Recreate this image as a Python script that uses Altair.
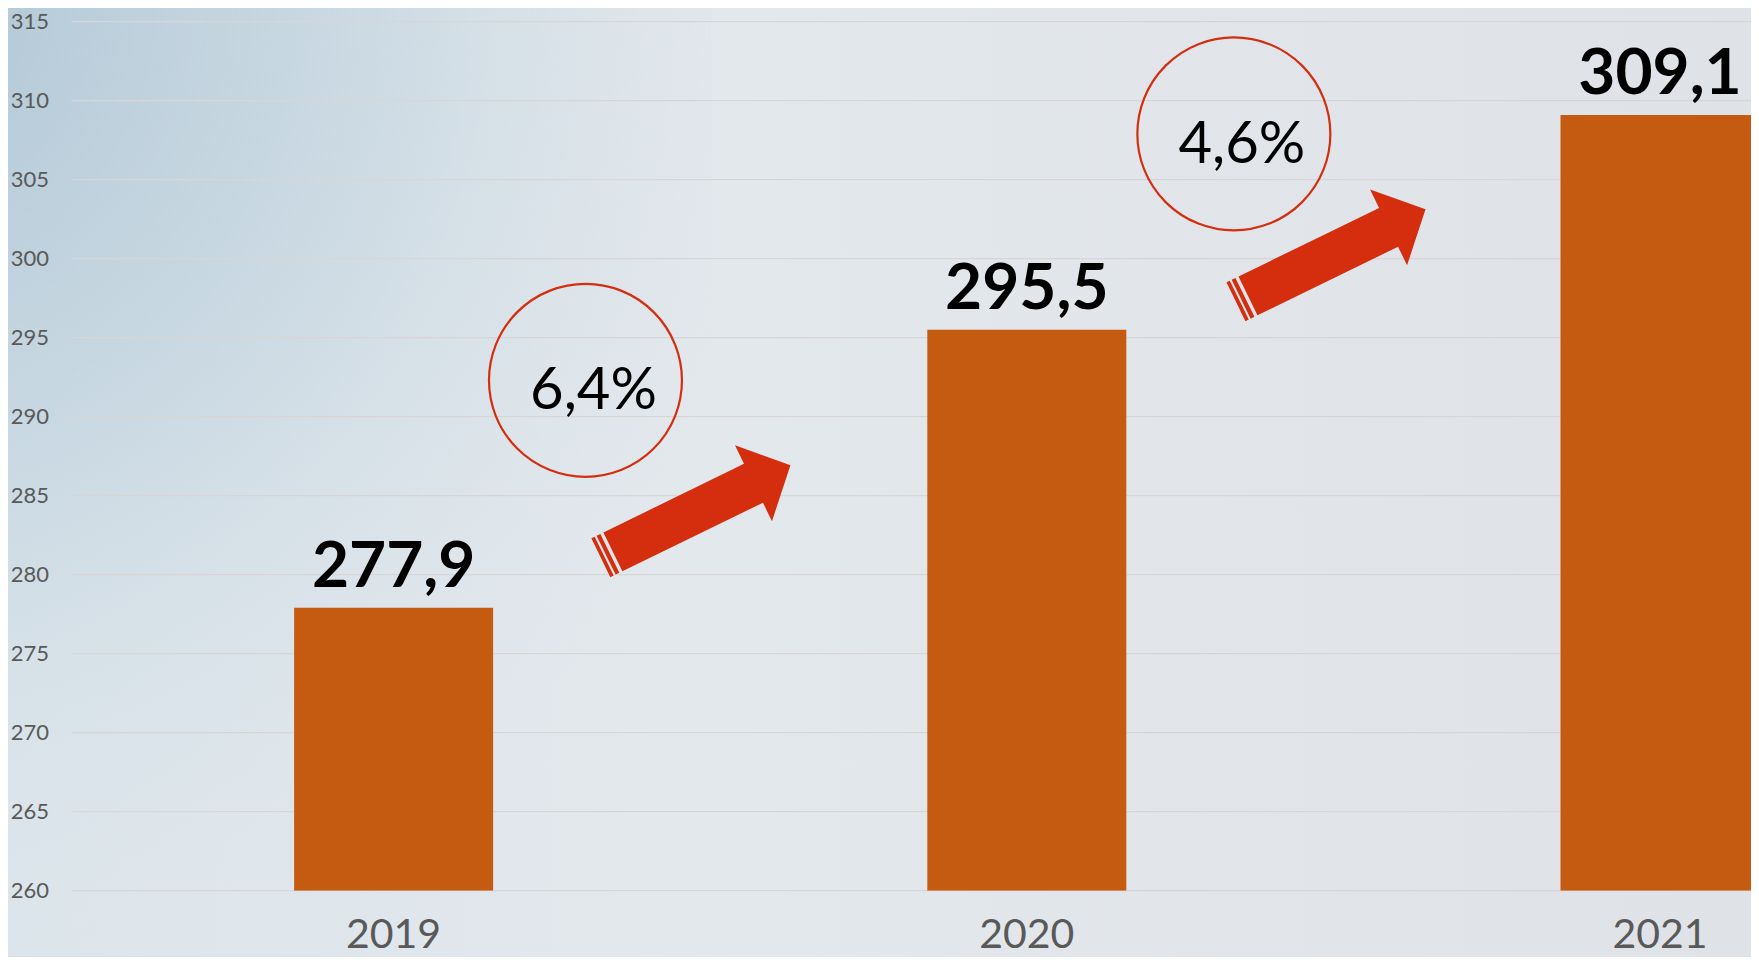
import altair as alt
import pandas as pd

# ---- data -------------------------------------------------------------
years = [2019, 2020, 2021]
year_labels = ["2019", "2020", "2021"]
values = [277.9, 295.5, 309.1]
value_labels = ["277,9", "295,5", "309,1"]
y_ticks = [260, 265, 270, 275, 280, 285, 290, 295, 300, 305, 310, 315]

growth_labels = ["6,4%", "4,6%"]
# annotation anchors, in data units (year, value)
growth_x = [2019.303, 2020.327]
growth_y = [292.3, 307.9]
arrow_x = [2019.477, 2020.48]
arrow_y = [284.0, 300.2]

# ---- styling ----------------------------------------------------------
W, H = 1679, 869
X_DOMAIN = [2018.5, 2021.1358]
Y_DOMAIN = [260, 315]
ORANGE = "#c55a11"
RED = "#d42e0e"
GREY = "#595959"
FONT = "Lato"

# arrow pointing right, drawn in the [-1, 1] symbol box, with two tail stripes
ARROW = (
    "M -0.873 -0.205 L 0.61 -0.205 L 0.61 -0.4 L 1 0 L 0.61 0.4 L 0.61 0.205 "
    "L -0.873 0.205 Z "
    "M -0.945 -0.205 L -0.905 -0.205 L -0.905 0.205 L -0.945 0.205 Z "
    "M -1 -0.205 L -0.965 -0.205 L -0.965 0.205 L -1 0.205 Z"
)

bars_df = pd.DataFrame({"year": years, "value": values, "label": value_labels,
                        "ylab": year_labels})
ticks_df = pd.DataFrame({"tick": y_ticks})
growth_df = pd.DataFrame({"gx": growth_x, "gy": growth_y, "label": growth_labels})
arrow_df = pd.DataFrame({"ax": arrow_x, "ay": arrow_y})
one = pd.DataFrame({"k": [0]})

xs = alt.Scale(domain=X_DOMAIN, nice=False, zero=False)
ys = alt.Scale(domain=Y_DOMAIN, nice=False, zero=False)

base_bg = alt.Chart(one).mark_rect(
    color=alt.LinearGradient(
        gradient="linear",
        stops=[
            alt.GradientStop(offset=0, color="#dce5eb"),
            alt.GradientStop(offset=0.4, color="#e3e8ec"),
            alt.GradientStop(offset=0.75, color="#e1e5ea"),
            alt.GradientStop(offset=1, color="#dfe2e7"),
        ],
        x1=0, y1=0, x2=1, y2=0,
    )
).encode(x=alt.value(-64), x2=alt.value(W), y=alt.value(-14), y2=alt.value(H + 66))

glow_bg = alt.Chart(one).mark_rect(
    color=alt.RadialGradient(
        gradient="radial",
        stops=[
            alt.GradientStop(offset=0, color="rgba(174,197,212,1)"),
            alt.GradientStop(offset=0.5, color="rgba(196,213,224,0.75)"),
            alt.GradientStop(offset=1, color="rgba(220,229,235,0)"),
        ],
        x1=0, y1=0, r1=0, x2=0, y2=0, r2=1,
    )
).encode(x=alt.value(-64), x2=alt.value(640), y=alt.value(-14), y2=alt.value(H + 66))

grid = alt.Chart(ticks_df).mark_rule(color="#d8d5d6", strokeWidth=1.3).encode(
    y=alt.Y("tick:Q", scale=ys, axis=None)
)

y_labels = alt.Chart(ticks_df).mark_text(
    font=FONT, fontSize=22, color=GREY, align="right", baseline="middle"
).encode(
    x=alt.value(-23),
    y=alt.Y("tick:Q", axis=None),
    text=alt.Text("tick:Q", format="d"),
)

bars = alt.Chart(bars_df).mark_bar(size=199, color=ORANGE, clip=True).encode(
    x=alt.X("year:Q", scale=xs, axis=None),
    y=alt.Y("value:Q", axis=None),
    y2=alt.datum(260),
)

x_labels = alt.Chart(bars_df).mark_text(
    font=FONT, fontSize=41, color=GREY, align="center", baseline="alphabetic"
).encode(
    x=alt.X("year:Q", axis=None),
    y=alt.value(H + 57),
    text="ylab:N",
)

bar_text = alt.Chart(bars_df).mark_text(
    font=FONT, fontWeight="bold", fontSize=64, baseline="alphabetic",
    align="center", dy=-21, color="#000000",
).encode(
    x=alt.X("year:Q", axis=None),
    y=alt.Y("value:Q", axis=None),
    text="label:N",
)

circles = alt.Chart(growth_df).mark_point(
    shape="circle", size=37249, filled=False, color=RED, strokeWidth=2.2, opacity=1
).encode(x=alt.X("gx:Q", axis=None), y=alt.Y("gy:Q", axis=None))

growth_text = alt.Chart(growth_df).mark_text(
    font=FONT, fontSize=58, baseline="alphabetic", align="center",
    dx=8, dy=29, color="#000000",
).encode(x=alt.X("gx:Q", axis=None), y=alt.Y("gy:Q", axis=None), text="label:N")

arrows = alt.Chart(arrow_df).mark_point(
    shape=ARROW, size=44500, filled=True, color=RED, opacity=1,
    strokeWidth=0, angle=334,
).encode(x=alt.X("ax:Q", axis=None), y=alt.Y("ay:Q", axis=None))

chart = alt.layer(
    base_bg, glow_bg, grid, y_labels, bars, x_labels, bar_text,
    circles, growth_text, arrows,
).resolve_scale(x="shared", y="shared").properties(
    width=W,
    height=H,
    padding={"left": 64, "top": 13.7, "right": 0, "bottom": 66},
    autosize=alt.AutoSizeParams(type="none"),
    background="#dfe6ea",
).configure_view(stroke=None)

chart.save("out.html", embed_options={"renderer": "svg", "actions": False})
